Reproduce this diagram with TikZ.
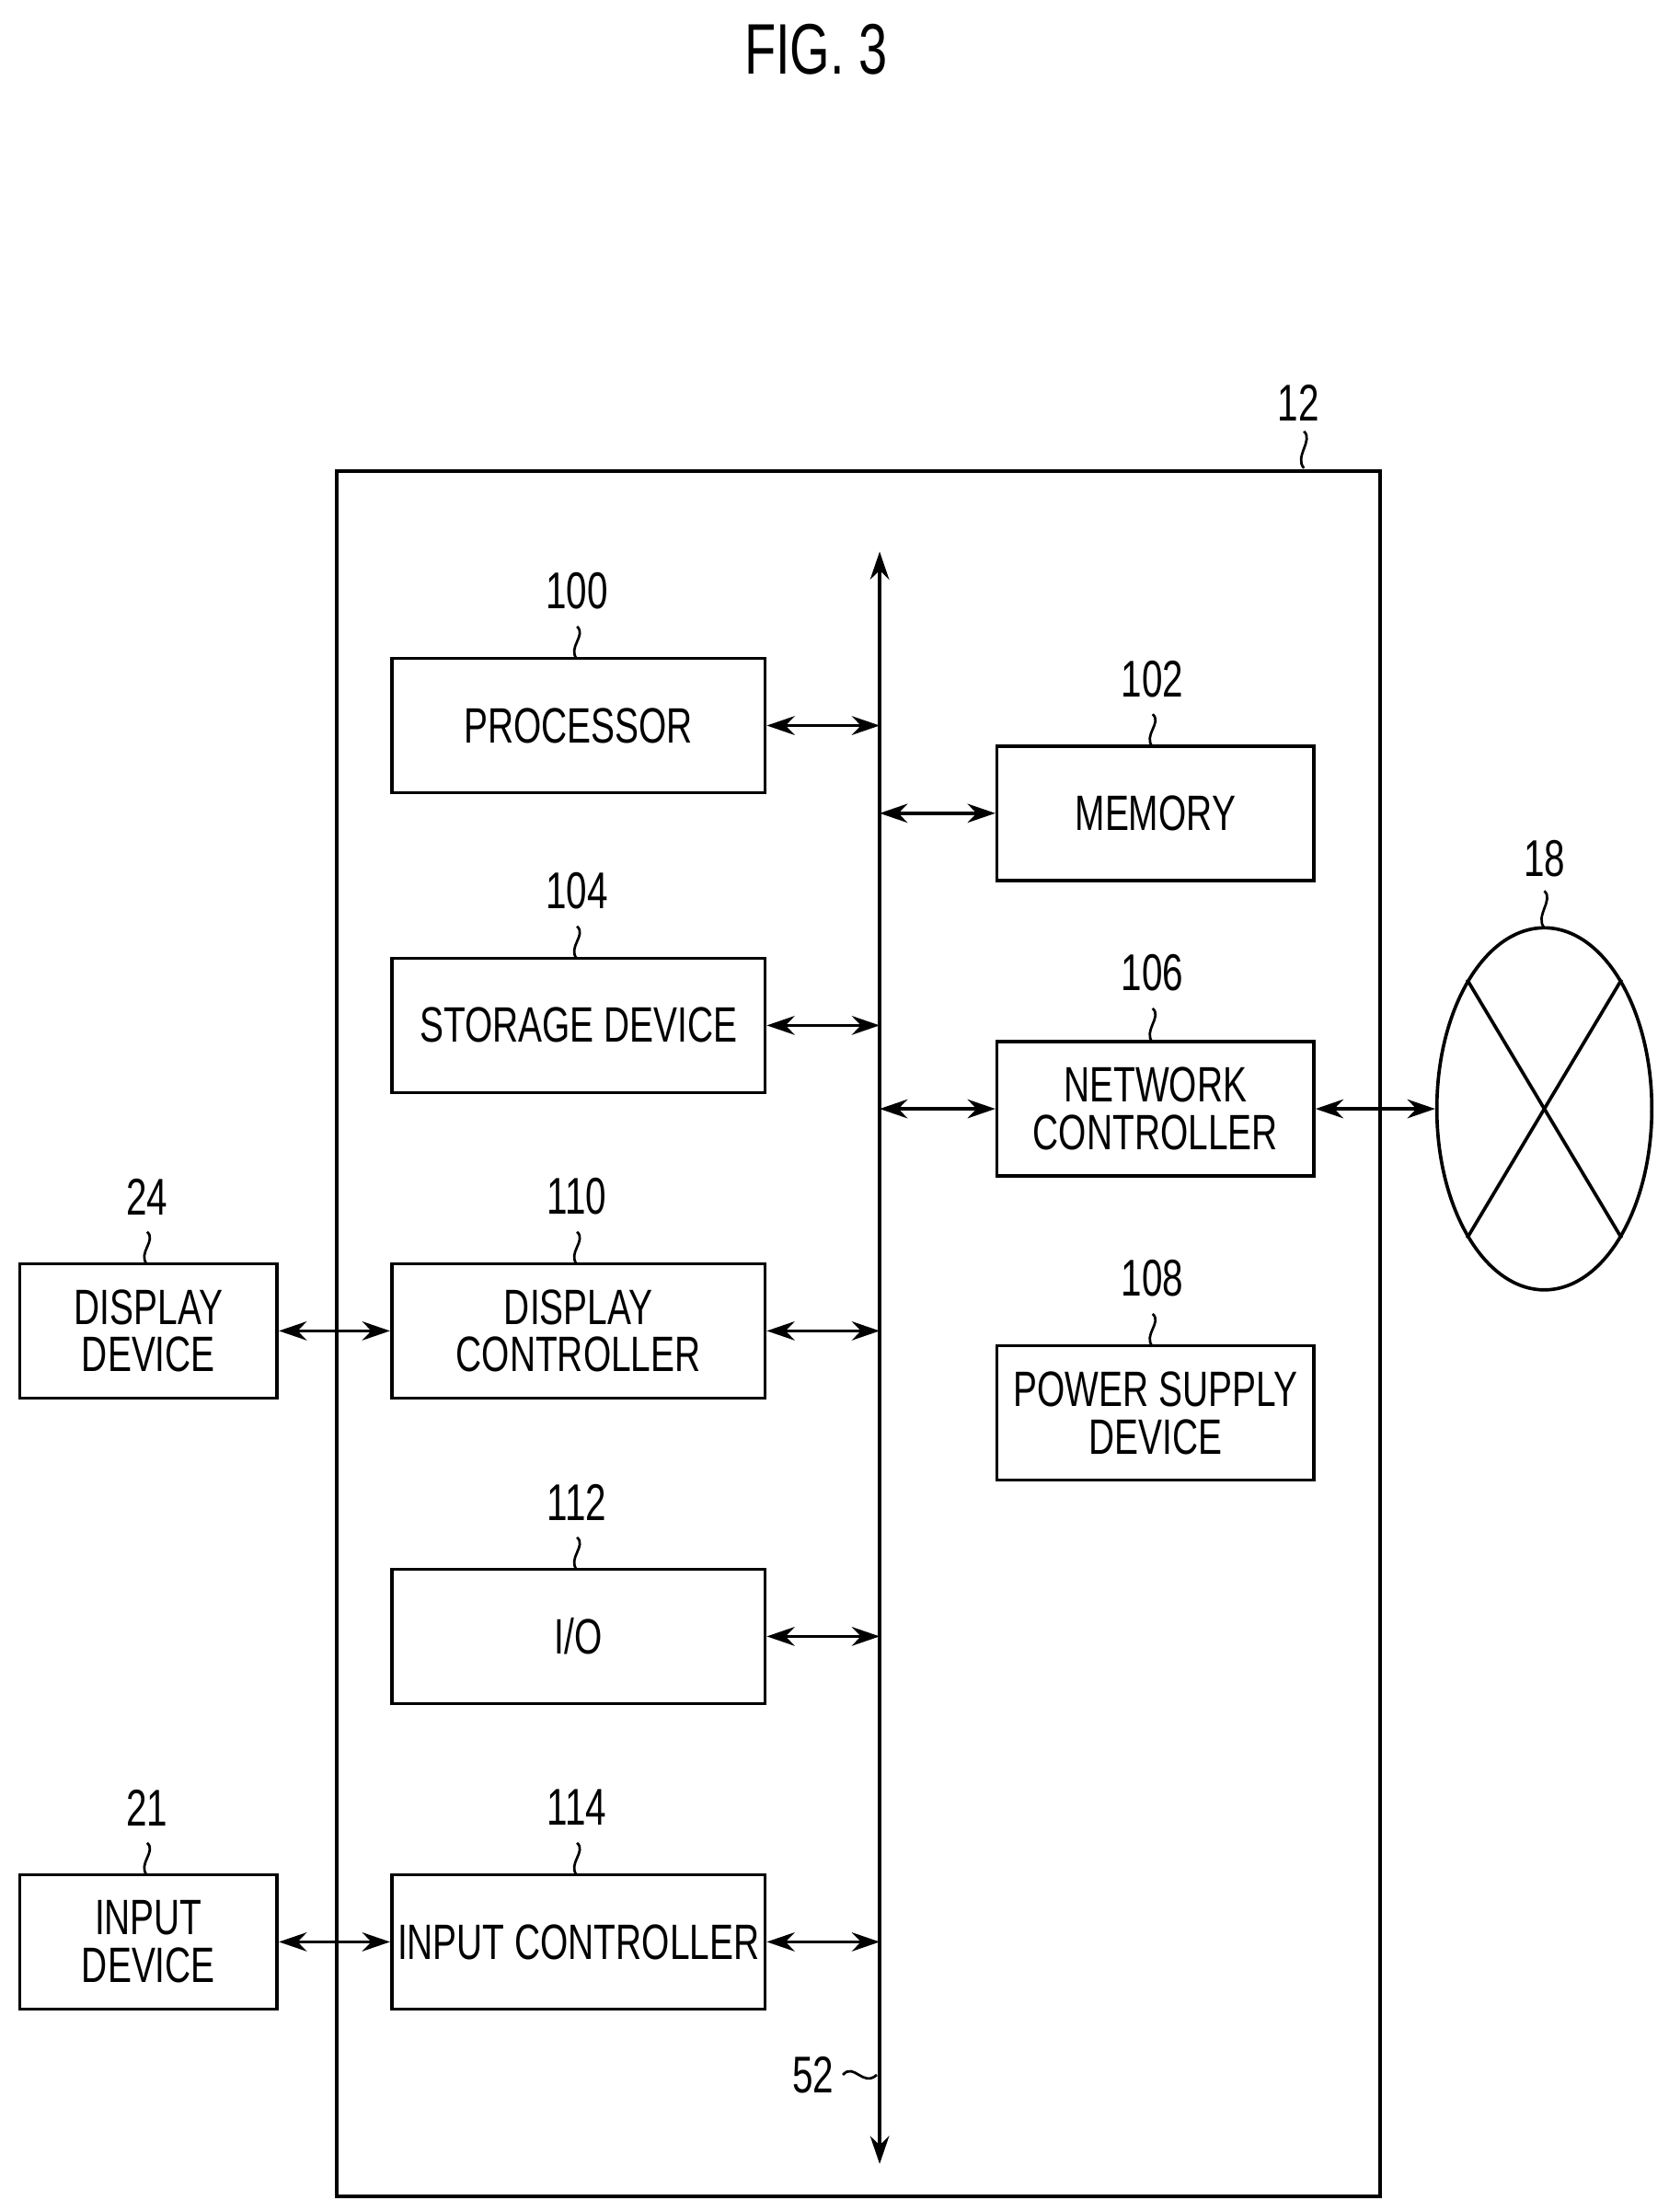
\documentclass[tikz,border=0pt]{standalone}
\usepackage{fontspec}
\setmainfont[FakeStretch=0.72]{Liberation Sans}
\usetikzlibrary{arrows.meta,shapes.geometric}
\begin{document}
\begin{tikzpicture}[x=0.05cm,y=-0.05cm,line width=3.4pt,
  box/.style={draw,minimum width=264*0.05cm,minimum height=95*0.05cm,inner sep=0pt,align=center,font=\fontsize{50}{48}\selectfont},
  sbox/.style={box,minimum width=224*0.05cm},
  ebox/.style={box,minimum width=182*0.05cm},
  lab/.style={font=\fontsize{52}{52}\selectfont,inner sep=0pt},
  arr/.style={{Stealth[length=28pt,width=19pt]}-{Stealth[length=28pt,width=19pt]}}]
\useasboundingbox (0,0) rectangle (1180,1564);
\newcommand{\sq}[3]{\draw[line width=2.5pt] (#1,#2) .. controls (#1+7,#2+6) and (#1-7,#3-8) .. (#1,#3);}
\node[font=\fontsize{72}{72}\selectfont] (fig) at (577,35) {FIG. 3};
\node[draw,minimum width=738*0.05cm,minimum height=1220*0.05cm,inner sep=0pt] (outer) at (607,943) {};
\node[lab] (l12) at (918,285) {12}; \sq{922}{305}{331}
\coordinate (btop) at (622,390); \coordinate (bbot) at (622,1530);
\draw[arr] (btop) -- (bbot);
\node[box] (p) at (409,513) {PROCESSOR}; \node[lab] at (408,418) {100}; \sq{408}{443}{466}
\node[sbox] (m) at (817,575) {MEMORY}; \node[lab] at (815,480) {102}; \sq{815}{505}{528}
\node[box] (s) at (409,725) {STORAGE DEVICE}; \node[lab] at (408,630) {104}; \sq{408}{655}{678}
\node[sbox] (n) at (817,784) {NETWORK\\CONTROLLER}; \node[lab] at (815,688) {106}; \sq{815}{713}{737}
\node[box] (dc) at (409,941) {DISPLAY\\CONTROLLER}; \node[lab] at (408,846) {110}; \sq{408}{871}{894}
\node[sbox] (ps) at (817,999) {POWER SUPPLY\\DEVICE}; \node[lab] at (815,904) {108}; \sq{815}{929}{952}
\node[box] (io) at (409,1157) {I/O}; \node[lab] at (408,1062) {112}; \sq{408}{1087}{1110}
\node[box] (ic) at (409,1373) {INPUT CONTROLLER}; \node[lab] at (408,1278) {114}; \sq{408}{1303}{1326}
\node[ebox] (dd) at (105,941) {DISPLAY\\DEVICE}; \node[lab] at (104,846) {24}; \sq{104}{871}{894}
\node[ebox] (id) at (105,1373) {INPUT\\DEVICE}; \node[lab] at (104,1278) {21}; \sq{104}{1303}{1326}
\node[draw,ellipse,minimum width=152*0.05cm,minimum height=256*0.05cm,inner sep=0pt] (net) at (1092,784) {};
\draw (net.north west) -- (net.south east); \draw (net.north east) -- (net.south west);
\node[lab] at (1092,607) {18}; \sq{1092}{630}{656}
\foreach \b in {p,s,dc,io,ic} \draw[arr] (\b.east) -- (\b.east -| btop);
\draw[arr] (m.west -| btop) -- (m.west);
\draw[arr] (n.west -| btop) -- (n.west);
\draw[arr] (n.east) -- (net.west);
\draw[arr] (dd.east) -- (dc.west);
\draw[arr] (id.east) -- (ic.west);
\node[lab] (l52) at (575,1467) {52};
\draw[line width=2.5pt] (596,1467) .. controls (604,1458) and (610,1476) .. (620,1467);
\end{tikzpicture}
\end{document}
